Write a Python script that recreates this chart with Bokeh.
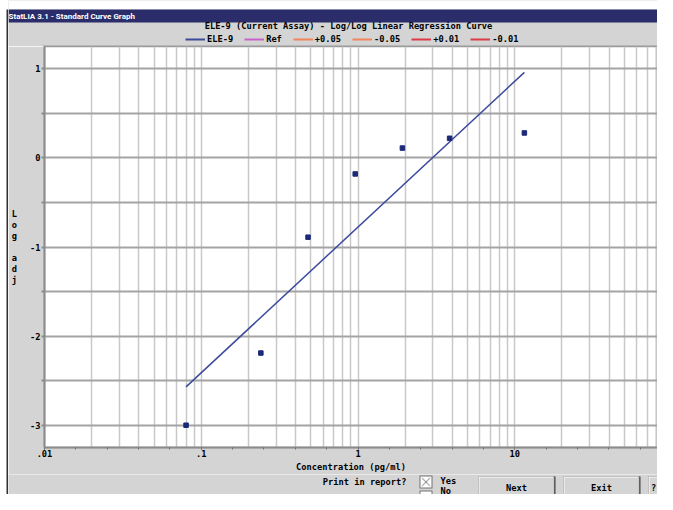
from bokeh.plotting import figure
from bokeh.layouts import column, row
from bokeh.models import (Range1d, FixedTicker, CustomJSTickFormatter, Label,
                          BoxAnnotation, PolyAnnotation, Legend, LegendItem)
from bokeh.embed import file_html
from bokeh.resources import INLINE

# ---------------- data ----------------
concentration = [0.08, 0.24, 0.48, 0.96, 1.92, 3.84, 11.52]
log_adj = [-3.0, -2.19, -0.89, -0.18, 0.11, 0.22, 0.28]
fit_concentration = [0.08, 11.52]
fit_log_adj = [-2.57, 0.96]
series_names = ["ELE-9", "Ref", "+0.05", "-0.05", "+0.01", "-0.01"]
series_colors = ["#3b4a9b", "#c864c8", "#f0845a", "#f0845a", "#dc3c46", "#dc3c46"]
x_tick_values = [0.01, 0.1, 1, 10, 100]
y_tick_values = [-3, -2.5, -2, -1.5, -1, -0.5, 0, 0.5, 1]
chart_title = "ELE-9 (Current Assay) - Log/Log Linear Regression Curve"
window_title = "StatLIA 3.1 - Standard Curve Graph"
x_title = "Concentration (pg/ml)"
y_title = "L\no\ng\n\na\nd\nj"
button_labels = ["Next", "Exit", "?"]

# ---------------- style ----------------
W, H = 657, 494
LEFT_W = 8
TOP_H = 46
MAIN_BOTTOM = 474
BG = "#d4d4d4"
NAVY = "#2b2d6b"
FONT = "DejaVu Sans Mono"
FS = "8.7px"
NAN = float("nan")


def chrome_fig(x0, y0, w, h, fill):
    f = figure(width=w, height=h, x_range=Range1d(x0, x0 + w), y_range=Range1d(y0 + h, y0),
               output_backend="svg", toolbar_location=None,
               x_axis_location=None, y_axis_location=None,
               min_border=0, min_border_left=0, min_border_right=0,
               min_border_top=0, min_border_bottom=0,
               background_fill_color=fill, border_fill_color=fill,
               outline_line_color=None, frame_align=False)
    f.grid.visible = False
    return f


def box(f, l, t, r, b, color):
    f.add_layout(BoxAnnotation(left=l, right=r, top=t, bottom=b,
                               fill_color=color, fill_alpha=1, line_color=None))


def text(f, x, y, s, size=FS, font=FONT, style="bold", color="black", align="left"):
    f.add_layout(Label(x=x, y=y, text=s, text_font=font, text_font_size=size,
                       text_font_style=style, text_color=color,
                       text_align=align, text_baseline="middle"))


# ---------------- left window edge ----------------
left = chrome_fig(0, 0, LEFT_W, H, "white")
box(left, 7.5, 9, 8, 22, NAVY)
box(left, 7.5, 22, 8, H, BG)
box(left, 6, 9, 7.5, H, "#303030")

# ---------------- window title bar, chart title, legend ----------------
top = chrome_fig(LEFT_W, 0, W - LEFT_W, TOP_H, BG)
box(top, LEFT_W, 0, W, 9, "white")
box(top, LEFT_W, 9, W, 22, NAVY)
box(top, 42, 45, W, 46.5, "#9a9a9a")
text(top, 8, 15.5, window_title, size="8px", font="Roboto", color="white")
text(top, 348, 25, chart_title, align="center")

legend_renderers = [top.line(x=[NAN], y=[NAN], line_color=c, line_width=2) for c in series_colors]
legend = Legend(items=[LegendItem(label=n, renderers=[r]) for n, r in zip(series_names, legend_renderers)],
                location=(177, 2), orientation="horizontal",
                glyph_width=20, glyph_height=10, label_height=10, label_width=10,
                label_standoff=2, spacing=11, padding=0, margin=0,
                background_fill_alpha=0, border_line_alpha=0,
                label_text_font=FONT, label_text_font_style="bold",
                label_text_font_size=FS, label_text_color="black")
top.add_layout(legend)

# ---------------- main chart ----------------
p = figure(width=W - LEFT_W, height=MAIN_BOTTOM - TOP_H, x_axis_type="log",
           x_range=Range1d(0.01, 81.4), y_range=Range1d(-3.25, 1.25),
           output_backend="svg", toolbar_location=None, frame_align=False,
           min_border_left=35, min_border_right=0, min_border_top=0, min_border_bottom=26,
           background_fill_color="white", border_fill_color=BG,
           outline_line_color="#9a9a9a", outline_line_width=1.5)

xa = p.xaxis[0]
minor = [10 ** (k / 5) for k in range(-10, 11)]
xa.ticker = FixedTicker(ticks=x_tick_values, minor_ticks=minor)
xa.formatter = CustomJSTickFormatter(
    code="return tick >= 1 ? tick.toFixed(0) : tick.toString().replace(/^0/, '');")
xa.axis_label = x_title
xa.axis_label_standoff = 2
xa.axis_label_text_font = FONT
xa.axis_label_text_font_style = "bold"
xa.axis_label_text_font_size = FS
xa.axis_label_text_color = "black"
xa.major_label_text_font = FONT
xa.major_label_text_font_style = "bold"
xa.major_label_text_font_size = FS
xa.major_label_text_color = "black"
xa.major_label_standoff = 0
xa.axis_line_color = "#8c8c8c"
xa.axis_line_width = 2
xa.major_tick_line_color = "#707070"
xa.minor_tick_line_color = "#707070"
xa.major_tick_in = 0
xa.minor_tick_in = 0
xa.major_tick_out = 2
xa.minor_tick_out = 2

ya = p.yaxis[0]
ya.ticker = FixedTicker(ticks=y_tick_values)
ya.formatter = CustomJSTickFormatter(
    code="return Number.isInteger(tick) ? tick.toFixed(0) : '';")
ya.axis_label = y_title
ya.axis_label_orientation = "horizontal"
ya.axis_label_standoff = 10
ya.axis_label_text_font = FONT
ya.axis_label_text_font_style = "bold"
ya.axis_label_text_font_size = FS
ya.axis_label_text_color = "black"
ya.axis_label_text_align = "center"
ya.axis_label_text_line_height = 1.1
ya.major_label_text_font = FONT
ya.major_label_text_font_style = "bold"
ya.major_label_text_font_size = FS
ya.major_label_text_color = "black"
ya.major_label_standoff = 1
ya.axis_line_color = "#8c8c8c"
ya.axis_line_width = 2
ya.major_tick_line_color = "#8c8c8c"
ya.major_tick_line_width = 2
ya.major_tick_in = 0
ya.major_tick_out = 3
ya.minor_tick_line_color = None

grid_ticks = [m * 10 ** e for e in range(-2, 2) for m in range(1, 10)] + [100]
p.xgrid.ticker = FixedTicker(ticks=grid_ticks)
p.xgrid.grid_line_color = "#c8c8c8"
p.xgrid.grid_line_width = 1.5
p.ygrid.grid_line_color = "#a4a4a4"
p.ygrid.grid_line_width = 2

p.line(fit_concentration, fit_log_adj, line_color=series_colors[0], line_width=1.5)
p.scatter(concentration, log_adj, marker="square", size=4.5,
          fill_color="#1c2878", line_color="#1c2878")

# ---------------- bottom controls ----------------
bot = chrome_fig(LEFT_W, MAIN_BOTTOM, W - LEFT_W, H - MAIN_BOTTOM, BG)
text(bot, 406, 481, "Print in report?", align="right")
box(bot, 419, 475, 432, 488, "#707070")
box(bot, 420, 476, 431, 487, "white")
for xs, ys in (([421.5, 429.5], [477.5, 485.5]), ([421.5, 429.5], [485.5, 477.5])):
    bot.add_layout(PolyAnnotation(xs=xs, ys=ys, fill_alpha=0, line_color="black", line_width=1.3))
text(bot, 440, 480, "Yes")
box(bot, 419, 490, 432, 500, "#707070")
box(bot, 420, 491, 431, 500, "white")
text(bot, 440, 490, "No")


def button(l, t, r, b, label, cx):
    box(bot, l, t, r, b, "#404040")
    box(bot, l, t, r - 1, b, "#808080")
    box(bot, l, t, r - 2, b, "white")
    box(bot, l + 1, t + 1, r - 2, b, BG)
    text(bot, cx, t + 11, label, align="center")


button(478, 476, 555, 500, button_labels[0], 516)
button(563, 476, 640, 500, button_labels[1], 601)
button(648, 476, 680, 500, button_labels[2], 653)

layout = row(left, column(top, p, bot, spacing=0), spacing=0)
open("out.html", "w").write(file_html(layout, INLINE))
